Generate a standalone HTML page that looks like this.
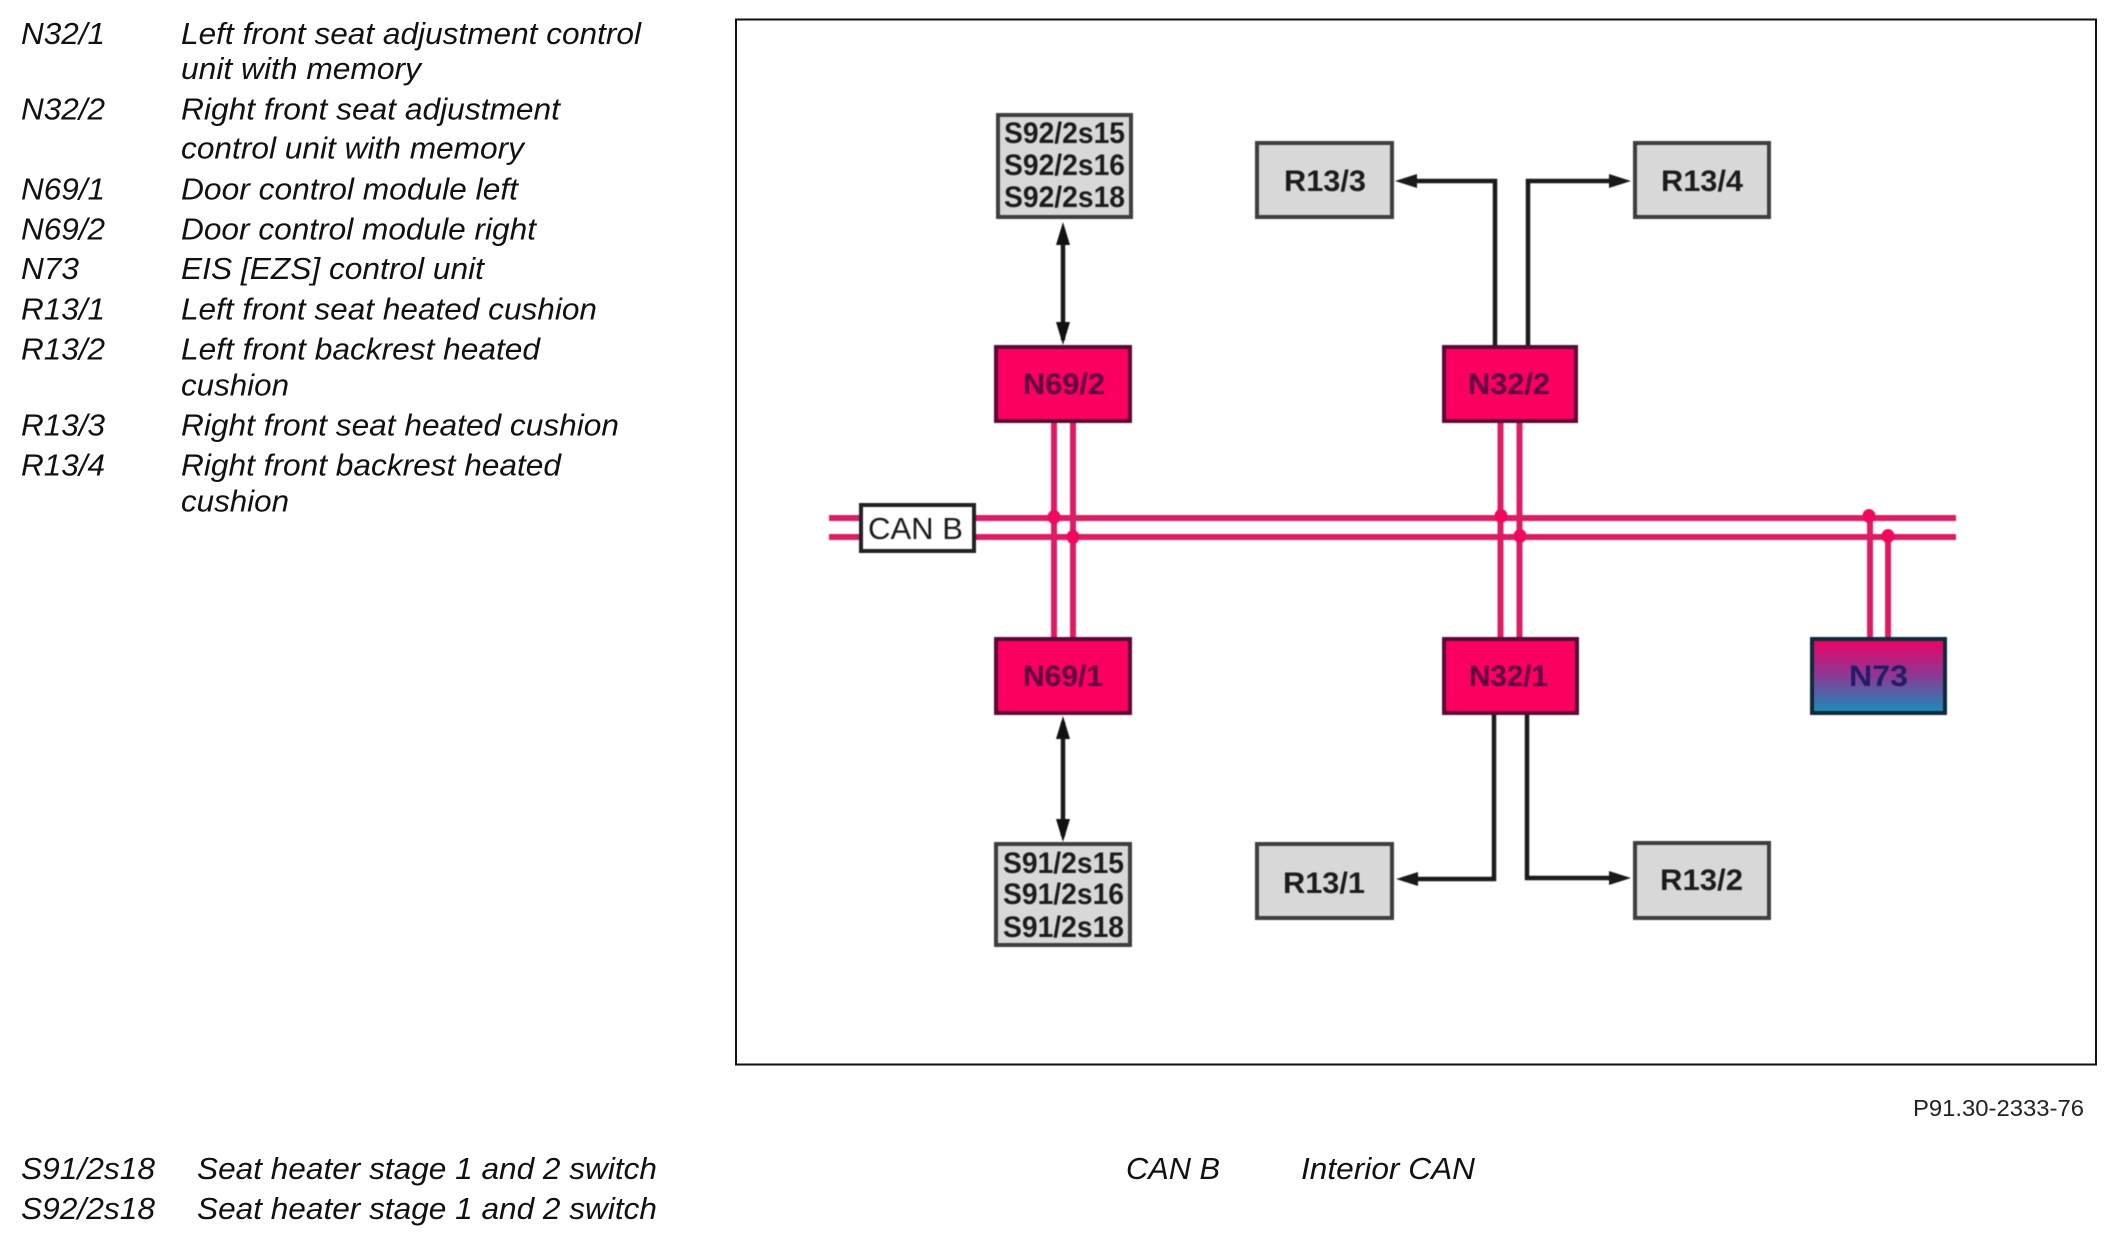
<!DOCTYPE html>
<html>
<head>
<meta charset="utf-8">
<style>
html,body{margin:0;padding:0;background:#fff;width:2112px;height:1254px;overflow:hidden}
svg{display:block}
text{font-family:"Liberation Sans",sans-serif}
.l{font-style:italic;font-size:31px;fill:#111}
.b{font-weight:bold;font-size:30px;fill:#1c1c1c}
.p{font-weight:bold;font-size:30px;fill:#5a0040}
.g{fill:#d8d8d8;stroke:#3e3e3e;stroke-width:4}
.r{fill:#fb0060;stroke:#5c0a34;stroke-width:4}
.bus{stroke:#dc1c64;stroke-width:6;fill:none}
.k{stroke:#1a1a1a;stroke-width:4.5;fill:none}
.soft{filter:blur(.6px)}
</style>
</head>
<body>
<svg width="2112" height="1254" viewBox="0 0 2112 1254" xmlns="http://www.w3.org/2000/svg">
<defs>
<linearGradient id="n73" x1="0" y1="0" x2="0" y2="1">
<stop offset="0" stop-color="#f00062"/>
<stop offset="0.5" stop-color="#8a3a96"/>
<stop offset="1" stop-color="#1690ba"/>
</linearGradient>
</defs>

<!-- left legend -->
<g>
<text class="l" x="21" y="44" textLength="84" lengthAdjust="spacingAndGlyphs">N32/1</text>
<text class="l" x="181" y="44" textLength="460" lengthAdjust="spacingAndGlyphs">Left front seat adjustment control</text>
<text class="l" x="181" y="79" textLength="240" lengthAdjust="spacingAndGlyphs">unit with memory</text>
<text class="l" x="21" y="119.5" textLength="84" lengthAdjust="spacingAndGlyphs">N32/2</text>
<text class="l" x="181" y="119.5" textLength="379" lengthAdjust="spacingAndGlyphs">Right front seat adjustment</text>
<text class="l" x="181" y="158.5" textLength="343" lengthAdjust="spacingAndGlyphs">control unit with memory</text>
<text class="l" x="21" y="199.5" textLength="84" lengthAdjust="spacingAndGlyphs">N69/1</text>
<text class="l" x="181" y="199.5" textLength="337" lengthAdjust="spacingAndGlyphs">Door control module left</text>
<text class="l" x="21" y="239.5" textLength="84" lengthAdjust="spacingAndGlyphs">N69/2</text>
<text class="l" x="181" y="239.5" textLength="355" lengthAdjust="spacingAndGlyphs">Door control module right</text>
<text class="l" x="21" y="279" textLength="58" lengthAdjust="spacingAndGlyphs">N73</text>
<text class="l" x="181" y="279" textLength="303" lengthAdjust="spacingAndGlyphs">EIS [EZS] control unit</text>
<text class="l" x="21" y="319.5" textLength="84" lengthAdjust="spacingAndGlyphs">R13/1</text>
<text class="l" x="181" y="319.5" textLength="416" lengthAdjust="spacingAndGlyphs">Left front seat heated cushion</text>
<text class="l" x="21" y="359.5" textLength="84" lengthAdjust="spacingAndGlyphs">R13/2</text>
<text class="l" x="181" y="359.5" textLength="359" lengthAdjust="spacingAndGlyphs">Left front backrest heated</text>
<text class="l" x="181" y="395.5" textLength="108" lengthAdjust="spacingAndGlyphs">cushion</text>
<text class="l" x="21" y="435.5" textLength="84" lengthAdjust="spacingAndGlyphs">R13/3</text>
<text class="l" x="181" y="435.5" textLength="438" lengthAdjust="spacingAndGlyphs">Right front seat heated cushion</text>
<text class="l" x="21" y="475.5" textLength="84" lengthAdjust="spacingAndGlyphs">R13/4</text>
<text class="l" x="181" y="475.5" textLength="380" lengthAdjust="spacingAndGlyphs">Right front backrest heated</text>
<text class="l" x="181" y="511.5" textLength="108" lengthAdjust="spacingAndGlyphs">cushion</text>
</g>

<!-- frame -->
<rect x="736" y="19.5" width="1360" height="1045" fill="#fff" stroke="#111" stroke-width="2"/>

<g class="soft">
<!-- bus -->
<path class="bus" d="M829 518H1956M829 537H1956"/>
<path class="bus" d="M1054 422V637M1073 422V637"/>
<path class="bus" d="M1500.5 422V637M1519.5 422V637"/>
<path class="bus" d="M1870 518V637M1888 537V637"/>
<g fill="#f0085e">
<ellipse cx="1054" cy="517" rx="6.5" ry="7"/>
<ellipse cx="1073" cy="537" rx="6.5" ry="7"/>
<ellipse cx="1501" cy="516" rx="6.5" ry="7"/>
<ellipse cx="1520" cy="536" rx="6.5" ry="7"/>
<ellipse cx="1869" cy="516" rx="6.5" ry="7"/>
<ellipse cx="1888" cy="536" rx="6.5" ry="7"/>
</g>

<!-- CAN B -->
<rect x="861" y="505" width="113" height="46" fill="#fff" stroke="#222" stroke-width="4"/>
<text x="868" y="539" font-size="31" fill="#1a1a1a" textLength="95" lengthAdjust="spacingAndGlyphs">CAN B</text>

<!-- black connectors -->
<path class="k" d="M1063 230V340"/>
<path d="M1063 222l-7 23h14zM1063 345l-7 -23h14z" fill="#111"/>
<path class="k" d="M1063 722V836"/>
<path d="M1063 716l-7 23h14zM1063 842l-7 -23h14z" fill="#111"/>
<path class="k" d="M1495 345V181H1410"/>
<path d="M1395 181l22 -7v14z" fill="#1a1a1a"/>
<path class="k" d="M1528 345V181H1612"/>
<path d="M1631 181l-22 -7v14z" fill="#1a1a1a"/>
<path class="k" d="M1494 714V879H1412"/>
<path d="M1396 879l22 -7v14z" fill="#1a1a1a"/>
<path class="k" d="M1527 714V878H1612"/>
<path d="M1631 878l-22 -7v14z" fill="#1a1a1a"/>

<!-- gray boxes -->
<rect class="g" x="998" y="115" width="133" height="102"/>
<text class="b" x="1004" y="143" textLength="121" lengthAdjust="spacingAndGlyphs">S92/2s15</text>
<text class="b" x="1004" y="175" textLength="121" lengthAdjust="spacingAndGlyphs">S92/2s16</text>
<text class="b" x="1004" y="207" textLength="121" lengthAdjust="spacingAndGlyphs">S92/2s18</text>

<rect class="g" x="996" y="844" width="134" height="101"/>
<text class="b" x="1003" y="873" textLength="121" lengthAdjust="spacingAndGlyphs">S91/2s15</text>
<text class="b" x="1003" y="904" textLength="121" lengthAdjust="spacingAndGlyphs">S91/2s16</text>
<text class="b" x="1003" y="937" textLength="121" lengthAdjust="spacingAndGlyphs">S91/2s18</text>

<rect class="g" x="1257" y="143" width="135" height="74"/>
<text class="b" x="1284" y="191" textLength="82" lengthAdjust="spacingAndGlyphs">R13/3</text>
<rect class="g" x="1635" y="143" width="134" height="74"/>
<text class="b" x="1661" y="191" textLength="82" lengthAdjust="spacingAndGlyphs">R13/4</text>
<rect class="g" x="1257" y="844" width="135" height="74"/>
<text class="b" x="1283" y="893" textLength="82" lengthAdjust="spacingAndGlyphs">R13/1</text>
<rect class="g" x="1635" y="843" width="134" height="75"/>
<text class="b" x="1660" y="890" textLength="83" lengthAdjust="spacingAndGlyphs">R13/2</text>

<!-- red boxes -->
<rect class="r" x="996" y="347" width="134" height="74"/>
<text class="p" x="1023" y="394" textLength="82" lengthAdjust="spacingAndGlyphs">N69/2</text>
<rect class="r" x="1444" y="347" width="132" height="74"/>
<text class="p" x="1468" y="394" textLength="82" lengthAdjust="spacingAndGlyphs">N32/2</text>
<rect class="r" x="996" y="639" width="134" height="74"/>
<text class="p" x="1023" y="686" textLength="80" lengthAdjust="spacingAndGlyphs">N69/1</text>
<rect class="r" x="1444" y="639" width="133" height="74"/>
<text class="p" x="1469" y="686" textLength="79" lengthAdjust="spacingAndGlyphs">N32/1</text>
<rect x="1812" y="639" width="133" height="74" fill="url(#n73)" stroke="#0e2a3a" stroke-width="4"/>
<text x="1849" y="686" font-weight="bold" font-size="30" fill="#241a66" textLength="59" lengthAdjust="spacingAndGlyphs">N73</text>
</g>

<!-- footer -->
<text x="1913" y="1116" font-size="23" fill="#222" textLength="171" lengthAdjust="spacingAndGlyphs">P91.30-2333-76</text>
<text class="l" x="21" y="1179" textLength="134" lengthAdjust="spacingAndGlyphs">S91/2s18</text>
<text class="l" x="197" y="1179" textLength="460" lengthAdjust="spacingAndGlyphs">Seat heater stage 1 and 2 switch</text>
<text class="l" x="21" y="1219" textLength="134" lengthAdjust="spacingAndGlyphs">S92/2s18</text>
<text class="l" x="197" y="1219" textLength="460" lengthAdjust="spacingAndGlyphs">Seat heater stage 1 and 2 switch</text>
<text class="l" x="1126" y="1179" textLength="94" lengthAdjust="spacingAndGlyphs">CAN B</text>
<text class="l" x="1301" y="1179" textLength="174" lengthAdjust="spacingAndGlyphs">Interior CAN</text>
</svg>
</body>
</html>
